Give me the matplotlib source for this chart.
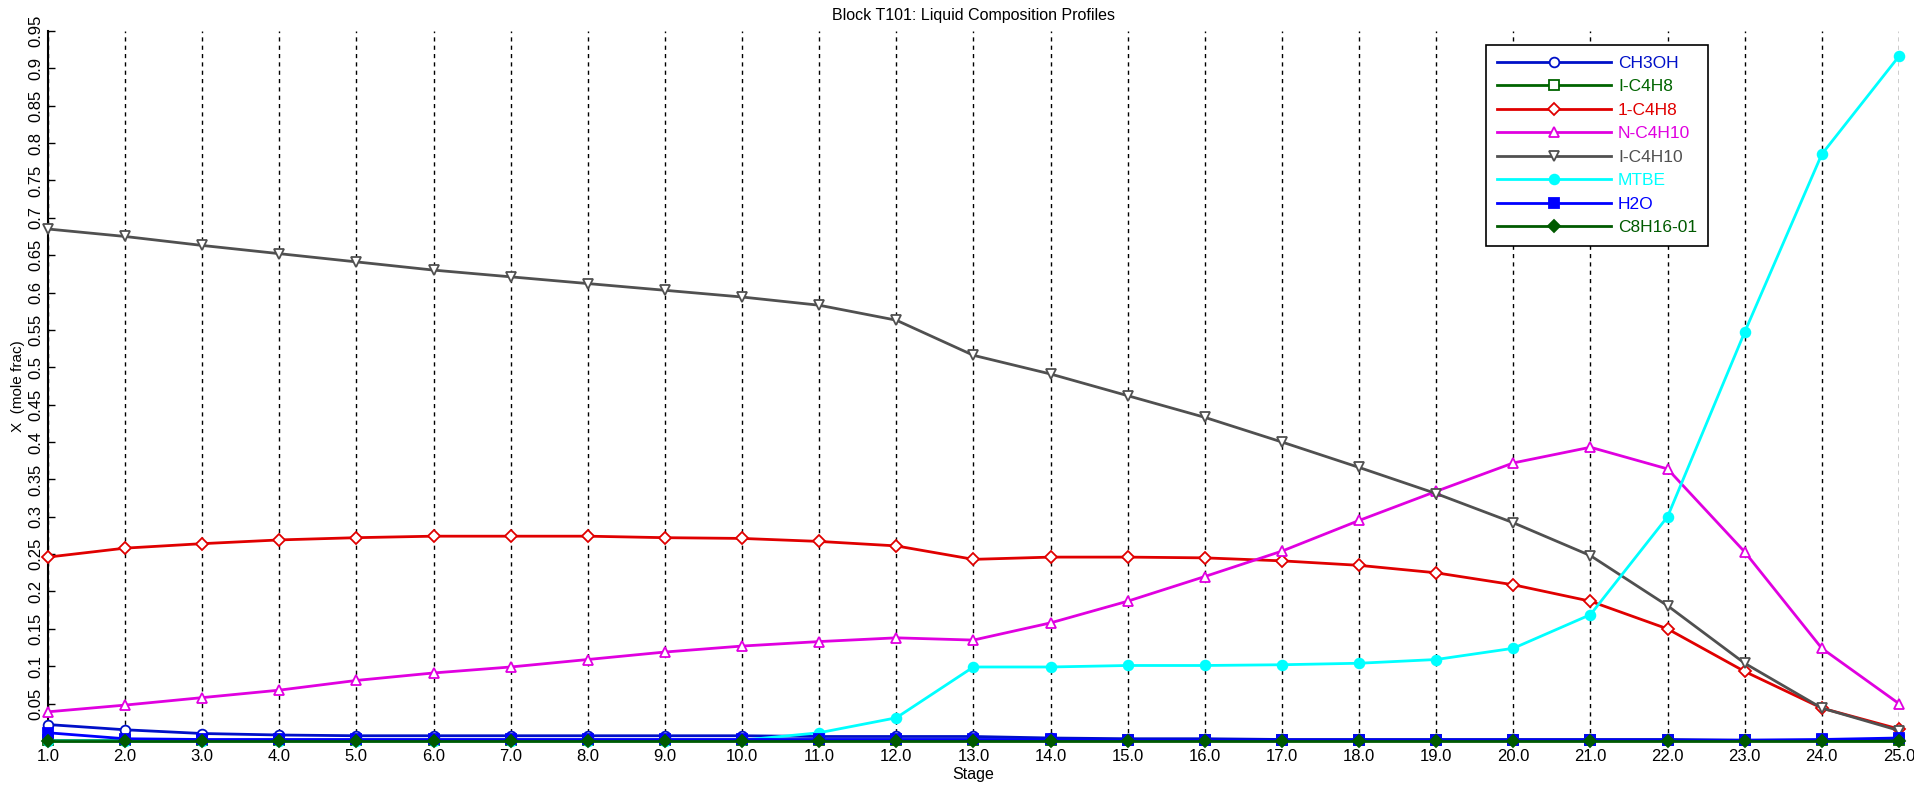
import matplotlib
matplotlib.use('Agg')
import matplotlib.pyplot as plt

plt.rcParams['font.family'] = ['Liberation Sans', 'DejaVu Sans']

stages = list(range(1, 26))

ch3oh = [0.022, 0.015, 0.010, 0.008, 0.007, 0.007, 0.007, 0.007, 0.007, 0.007,
         0.006, 0.006, 0.006, 0.004, 0.003, 0.003, 0.002, 0.002, 0.002, 0.002,
         0.002, 0.002, 0.001, 0.001, 0.001]
ic4h8 = [0.001] * 25
c1c4h8 = [0.246, 0.258, 0.264, 0.269, 0.272, 0.274, 0.274, 0.274, 0.272, 0.271,
          0.267, 0.261, 0.243, 0.246, 0.246, 0.245, 0.241, 0.235, 0.225, 0.209,
          0.187, 0.150, 0.093, 0.044, 0.016]
nc4h10 = [0.039, 0.048, 0.058, 0.068, 0.081, 0.091, 0.099, 0.109, 0.119, 0.127,
          0.133, 0.138, 0.135, 0.158, 0.187, 0.220, 0.254, 0.295, 0.334, 0.372,
          0.393, 0.364, 0.253, 0.124, 0.050]
ic4h10 = [0.685, 0.675, 0.663, 0.652, 0.641, 0.630, 0.621, 0.612, 0.603, 0.594,
          0.583, 0.563, 0.516, 0.491, 0.462, 0.433, 0.400, 0.366, 0.331, 0.292,
          0.248, 0.181, 0.104, 0.044, 0.014]
mtbe = [0.0, 0.0, 0.0, 0.0, 0.0, 0.0, 0.0, 0.0, 0.0, 0.001,
        0.011, 0.031, 0.099, 0.099, 0.101, 0.101, 0.102, 0.104, 0.109, 0.124,
        0.169, 0.300, 0.547, 0.785, 0.916]
h2o = [0.011, 0.003, 0.002, 0.002, 0.002, 0.002, 0.002, 0.002, 0.002, 0.002,
       0.002, 0.002, 0.002, 0.002, 0.001, 0.001, 0.001, 0.001, 0.001, 0.001,
       0.001, 0.001, 0.001, 0.002, 0.004]
c8h16 = [0.0] * 25

series = [
    ('CH3OH', ch3oh, '#0010C8', 'o', 'white'),
    ('I-C4H8', ic4h8, '#006400', 's', 'white'),
    ('1-C4H8', c1c4h8, '#E00000', 'D', 'white'),
    ('N-C4H10', nc4h10, '#E000E0', '^', 'white'),
    ('I-C4H10', ic4h10, '#505050', 'v', 'white'),
    ('MTBE', mtbe, '#00FFFF', 'o', None),
    ('H2O', h2o, '#0000FF', 's', None),
    ('C8H16-01', c8h16, '#005A00', 'D', None),
]

fig = plt.figure(figsize=(19.15, 7.93), dpi=100)
ax = fig.add_axes([0.025, 0.0656, 0.9666, 0.8954])

for name, vals, col, mk, fc in series:
    ms = 6 if mk == 'D' else 7
    ax.plot(stages, vals, color=col, lw=2, marker=mk, ms=ms,
            markerfacecolor=fc if fc else col, markeredgecolor=col,
            markeredgewidth=1.3, label=name, clip_on=False, zorder=3)

ax.set_xlim(1, 25)
ax.set_ylim(0, 0.95)
ax.set_xticks(stages)
ax.set_xticklabels(['%.1f' % s for s in stages], fontsize=12)
yt = [round(0.05 * i, 2) for i in range(1, 20)]
ax.set_yticks(yt)
ax.set_yticklabels(['%g' % v for v in yt], fontsize=12, rotation=90, va='center')
ax.tick_params(direction='in', length=5, width=1)
ax.tick_params(axis='x', length=0, pad=6)

# dashed vertical grid at every stage
for s in stages:
    ax.axvline(s, color='black', ls=(0, (3, 3)), lw=1, zorder=1)

ax.spines['top'].set_visible(False)
ax.spines['right'].set_visible(False)
ax.spines['left'].set_linewidth(1.5)
ax.spines['bottom'].set_linewidth(1.5)

ax.set_title('Block T101: Liquid Composition Profiles', fontsize=11.5, pad=8)
ax.set_xlabel('Stage', fontsize=11.5, labelpad=2)
ax.set_ylabel('X  (mole frac)', fontsize=11, labelpad=2)

leg = ax.legend(loc='upper left', bbox_to_anchor=(0.777, 0.98), fontsize=12.5,
                handlelength=6.6, labelspacing=0.48, fancybox=False,
                edgecolor='black', framealpha=1, borderpad=0.6,
                borderaxespad=0, handletextpad=0.4)
leg.get_frame().set_linewidth(1.2)
for txt, s in zip(leg.get_texts(), series):
    txt.set_color(s[2])

fig.savefig('out.png', dpi=100)
